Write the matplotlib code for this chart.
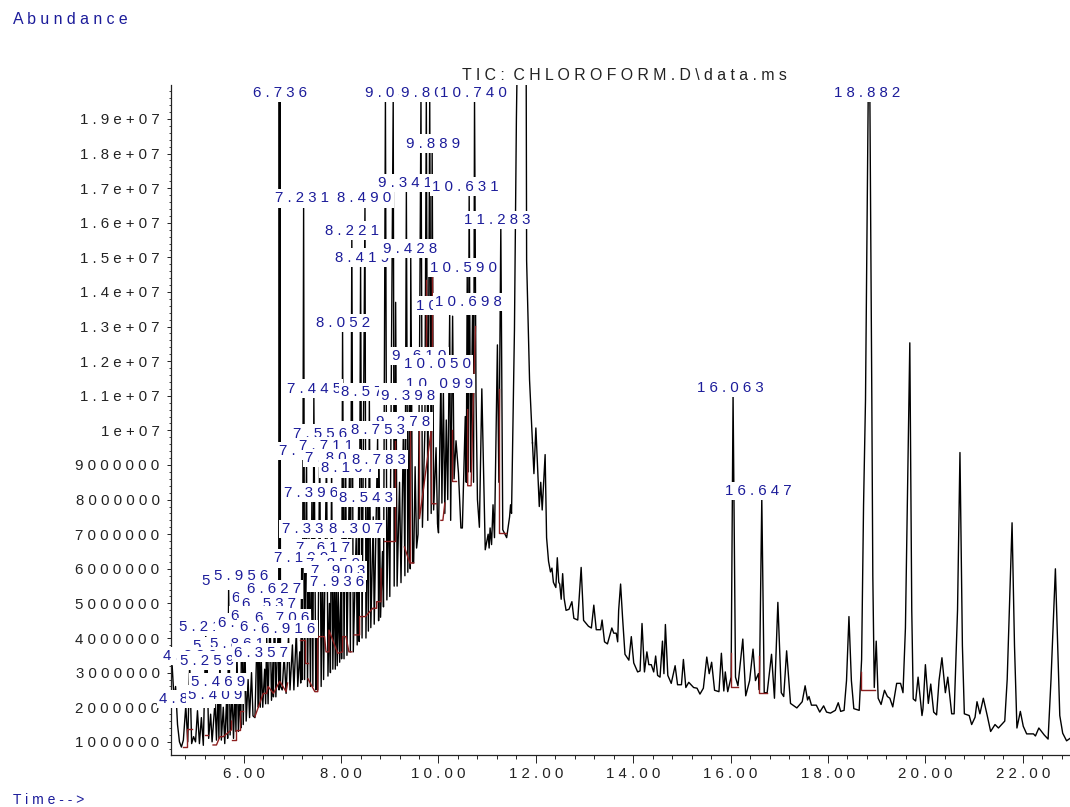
import matplotlib
matplotlib.use('Agg')
import matplotlib.pyplot as plt
from matplotlib.ticker import FixedLocator, MultipleLocator

plt.rcParams['font.family'] = ['Liberation Sans', 'DejaVu Sans']

# trace: (minutes, abundance in millions)
early = [(4.50,2.6),(4.53,3.2),(4.57,2.2),(4.60,2.6),(4.64,1.5),(4.68,1.0),(4.72,0.85),(4.76,1.05),
         (4.81,2.04),(4.85,1.0),(4.89,3.28),(4.93,0.95),(4.97,1.15),(5.01,1.0),(5.05,1.9),(5.09,0.95),
         (5.13,1.7),(5.17,0.9),(5.22,4.12),(5.23,2.0),(5.25,3.14),(5.28,1.1),(5.32,1.8),(5.35,1.0),
         (5.41,2.16),(5.44,1.05),(5.47,2.53),(5.49,1.1),(5.51,3.57),(5.54,1.05),(5.58,2.0),(5.61,0.95),
         (5.65,2.3),(5.67,1.1),(5.69,5.45),(5.72,1.2),(5.76,2.4),(5.79,1.1),(5.82,2.6),(5.84,1.3),
         (5.86,3.63),(5.89,1.3),(5.92,2.4),(5.94,1.4),(5.96,5.6),(5.99,1.5),(6.02,4.24),(6.05,1.6),
         (6.09,2.8),(6.12,1.7),(6.16,3.0),(6.19,1.75),(6.23,1.7),(6.28,4.44),(6.30,2.0),(6.31,4.96),
         (6.34,2.0),(6.36,3.37),(6.39,2.0),(6.43,3.1),(6.45,2.1),(6.47,4.12),(6.50,2.1),(6.54,4.79),
         (6.57,2.2),(6.60,3.3),(6.61,2.3),(6.63,5.2),(6.66,2.3),(6.71,4.38),(6.725,2.5),(6.73,19.6),
         (6.735,5.0),(6.745,19.6),(6.755,2.6),(6.79,2.5),(6.83,3.5),(6.87,2.4),(6.92,4.06),(6.95,2.5),
         (7.0,3.8),(7.03,2.5),(7.08,4.2),(7.11,2.6),(7.15,3.6),(7.17,2.7),(7.19,6.1),(7.205,2.8),
         (7.23,16.5),(7.25,2.8),(7.29,9.2),(7.31,2.6),(7.34,6.95),(7.37,2.6),(7.40,8.0),(7.42,2.6),
         (7.44,11.0),(7.48,2.5),(7.50,4.2),(7.52,2.5),(7.56,9.7),(7.59,2.6),(7.62,6.4),(7.64,2.8),
         (7.70,9.35),(7.73,2.9),(7.76,5.0),(7.78,3.0),(7.805,9.0),(7.83,3.1),(7.86,5.94),(7.88,3.1),
         (7.90,5.74),(7.92,3.2),(7.94,5.4),(7.97,3.3),(8.0,6.0),(8.01,3.4),(8.03,12.9),(8.06,3.4),
         (8.09,9.8),(8.12,3.5),(8.17,8.7),(8.19,3.6),(8.22,15.57),(8.25,3.6),(8.31,6.95),(8.33,3.8),
         (8.36,8.0),(8.37,3.9),(8.40,14.79),(8.43,4.0),(8.49,16.5),(8.51,4.0),(8.54,7.85),(8.56,4.2),
         (8.58,10.9),(8.61,4.3),(8.66,7.5),(8.68,4.4),(8.75,9.8),(8.77,4.5),(8.78,8.95),(8.81,4.6),
         (8.85,6.5),(8.87,4.9)]
middle = [(8.91,19.6),(8.94,5.1),(8.98,8.3),(9.0,5.2),(9.07,19.6),(9.09,5.5),(9.12,13.7),(9.15,5.5),
          (9.20,8.5),(9.23,5.6),(9.28,10.05),(9.31,5.8),(9.34,16.95),(9.37,5.9),(9.40,10.8),(9.42,6.0),
          (9.43,15.05),(9.47,6.17),(9.49,6.17),(9.52,8.95),(9.55,6.6),(9.58,7.0),(9.61,11.95),(9.64,19.6),
          (9.67,7.2),(9.72,10.0),(9.75,19.6),(9.78,7.4),(9.82,19.6),(9.85,7.6),(9.87,18.08),(9.90,7.7),
          (9.95,9.5),(9.98,7.3),(10.0,7.04),(10.05,11.7),(10.07,7.9),(10.10,11.15),(10.13,7.6),
          (10.16,10.3),(10.19,8.0),(10.23,13.4),(10.25,7.4),(10.29,13.3),(10.32,8.6),(10.36,9.7),
          (10.41,8.77),(10.46,7.18),(10.49,7.18),(10.55,10.4),(10.57,8.5),(10.59,14.5),(10.61,8.8),
          (10.63,16.84),(10.66,8.8),(10.70,13.5),(10.72,8.5),(10.74,19.6),(10.77,11.08),(10.80,8.0),
          (10.84,7.2),(10.89,11.2),(10.96,6.55),(11.02,7.0),(11.04,6.6),(11.06,7.18),(11.09,6.7),
          (11.12,7.85),(11.15,6.9),(11.21,12.47),(11.24,8.5),(11.28,15.88),(11.32,7.13),(11.40,6.9),
          (11.46,7.5),(11.48,7.85),(11.50,7.6),(11.56,12.9),(11.60,19.0),(11.63,22.0),(11.72,22.0),
          (11.80,21.0),(11.81,14.9),(11.87,11.46),(11.93,9.64)]
late = [(11.93,9.64),(11.96,8.75),(12.0,10.07),(12.07,7.8),(12.10,8.5),(12.13,7.7),(12.19,9.3),(12.22,6.9),
        (12.26,6.22),(12.30,5.91),(12.33,6.02),(12.36,5.61),(12.41,5.46),
        (12.44,6.32),(12.47,5.61),(12.49,5.56),(12.52,5.12),(12.55,5.86),(12.58,5.15),(12.62,4.8),
        (12.68,4.83),(12.74,5.05),(12.78,4.57),(12.86,4.52),(12.93,6.04),(12.98,4.51),(13.08,4.34),
        (13.14,4.29),(13.19,4.95),(13.24,4.24),(13.33,4.24),(13.36,4.52),(13.41,3.89),(13.47,3.83),
        (13.56,4.29),(13.60,4.14),(13.65,4.14),(13.68,3.89),(13.70,4.8),(13.74,5.56),(13.78,4.6),
        (13.83,3.53),(13.91,3.36),(13.96,4.04),(14.01,3.28),(14.09,3.02),(14.14,3.05),(14.18,4.42),
        (14.23,3.02),(14.28,3.6),(14.32,3.23),(14.37,3.23),(14.42,3.02),(14.46,3.48),(14.50,2.92),
        (14.55,2.87),(14.60,3.91),(14.63,2.97),(14.66,4.39),(14.71,2.92),(14.78,2.69),(14.86,3.2),
        (14.91,2.65),(14.99,2.65),(15.03,3.38),(15.08,2.57),(15.14,2.72),(15.24,2.57),(15.31,2.55),
        (15.37,2.38),(15.44,2.55),(15.51,3.45),(15.56,2.97),(15.61,3.3),(15.67,2.49),(15.76,2.45),
        (15.81,3.56),(15.86,2.47),(15.89,3.02),(15.94,2.45),(16.01,2.87),(16.05,11.03),(16.10,2.87),
        (16.15,2.62),(16.20,3.28),(16.25,3.97),(16.31,2.33),(16.39,2.77),(16.46,3.68),(16.51,2.77),
        (16.57,2.97),(16.59,2.5),(16.64,8.04),(16.69,2.42),(16.75,2.42),(16.84,3.53),(16.90,2.26),
        (16.97,5.03),(17.04,2.42),(17.09,2.31),(17.15,3.63),(17.23,2.11),(17.36,1.98),(17.47,2.16),
        (17.53,2.62),(17.58,2.21),(17.61,2.31),(17.66,2.06),(17.76,2.06),(17.83,1.86),(17.91,2.04),
        (17.97,1.86),(18.05,1.83),(18.15,1.91),(18.21,2.13),(18.26,1.88),(18.33,1.91),(18.38,2.77),
        (18.43,4.62),(18.48,2.77),(18.53,1.96),(18.64,1.91),(18.69,3.38),(18.73,7.84),(18.77,10.88),
        (18.825,19.6),(18.86,19.6),(18.90,10.88),(18.92,5.8),(18.95,2.57),(18.99,3.91),(19.03,2.26),(19.09,2.08),
        (19.16,2.49),(19.22,2.31),(19.27,2.26),(19.33,2.01),(19.41,2.69),(19.49,2.69),(19.54,2.42),
        (19.59,4.29),(19.65,9.87),(19.68,12.53),(19.72,4.8),(19.75,2.24),(19.80,2.18),(19.85,2.87),
        (19.93,1.76),(19.95,1.95),(20.0,3.23),(20.06,2.11),(20.11,2.67),(20.17,1.86),(20.23,1.78),
        (20.28,2.77),(20.34,3.43),(20.41,2.42),(20.46,2.87),(20.54,1.81),(20.59,1.81),(20.66,4.8),
        (20.71,9.36),(20.76,3.78),(20.80,1.81),(20.90,1.76),(20.95,1.5),(21.02,1.71),(21.06,2.16),
        (21.12,1.81),(21.19,2.26),(21.27,1.76),(21.34,1.3),(21.43,1.5),(21.5,1.4),(21.63,1.6),
        (21.68,2.8),(21.78,7.33),(21.83,3.78),(21.88,1.4),(21.95,1.88),(22.01,1.45),(22.08,1.23),
        (22.22,1.23),(22.26,1.17),(22.33,1.4),(22.44,1.2),(22.52,1.08),(22.58,2.8),(22.67,6.0),
        (22.76,1.76),(22.82,1.25),(22.90,1.03),(22.97,1.1)]

# integration baselines, one list per run of red segments
baselines = [
    [(4.75,0.85),(4.83,0.85),(4.83,1.37),(4.94,1.37)],
    [(5.20,1.2),(5.27,1.2)],
    [(5.37,0.91),(5.44,0.91),(5.51,1.15),(5.58,1.15),(5.75,1.35),(5.75,1.6)],
    [(5.75,1.06),(5.84,1.06),(5.84,1.35),(5.92,1.35),(5.92,1.88),(5.98,1.88)],
    [(6.23,1.73),(6.33,2.12),(6.40,2.4),(6.47,2.4),(6.50,2.6),(6.61,2.4),(6.74,2.75),(6.87,2.45),(6.90,2.7)],
    [(7.15,3.94),(7.25,3.94),(7.25,3.27),(7.32,3.27)],
    [(7.32,2.82),(7.46,2.45),(7.52,2.45),(7.52,3.37),(7.52,4.04),(7.66,4.04),(7.69,3.6),(7.75,3.6),
     (7.75,4.23),(7.93,3.56),(8.03,3.6),(8.03,4.04),(8.10,4.04),(8.16,3.6),(8.22,3.6)],
    [(8.27,4.09),(8.38,4.09),(8.38,4.62),(8.50,4.62),(8.65,4.86),(8.73,4.86),(8.73,5.05),(8.82,5.05),(8.82,6.0)],
    [(8.89,6.79),(9.10,6.79),(9.10,8.4),(9.10,9.7)],
    [(9.30,6.63),(9.41,6.17),(9.49,6.17)],
    [(9.41,6.17),(9.41,10.0)],
    [(9.61,10.0),(9.61,7.45),(9.85,10.0),(9.86,7.88),(9.95,7.88)],
    [(9.75,12.4),(9.75,14.35)],
    [(9.87,12.4),(9.87,14.9)],
    [(10.05,7.4),(10.09,7.4),(10.13,7.9)],
    [(10.28,10.0),(10.28,8.55),(10.35,8.55)],
    [(10.60,10.6),(10.60,8.4),(10.67,8.4),(10.70,10.2),(10.76,13.0)],
    [(11.25,11.2),(11.25,7.04),(11.39,7.04)],
    [(16.01,3.58),(16.01,2.59),(16.15,2.59)],
    [(16.59,3.48),(16.59,2.41),(16.75,2.41)],
    [(18.68,3.03),(18.68,2.51),(18.96,2.51)],
]

# peak labels in drawing order: later ones sit on top of earlier ones
label_text = ['6.736','9.046','9.805','10.740','18.882','9.889','9.341','10.631','7.231','8.490',
              '8.221','11.283','8.419','9.428','10.590','10.227','10.698','8.052','9.610','10.050',
              '10.099','7.445','8.578','9.398','9.278','8.091','7.556','7.294','7.711','7.805',
              '8.753','8.167','8.783','7.396','8.543','7.338','8.307','7.617','7.199','7.859',
              '7.903','7.936','5.689','5.956','6.311','6.627','6.537','5.218','6.021','6.287',
              '6.472','5.512','5.861','6.706','6.916','4.889','5.259','6.357','4.812','5.409',
              '5.469','16.063','16.647']
label_time = [6.74,9.05,9.79,10.72,18.80,9.88,9.32,10.55,7.19,8.48,
              8.22,11.21,8.42,9.41,10.51,10.23,10.62,8.05,9.61,9.98,
              10.02,7.44,8.56,9.38,9.28,8.09,7.56,7.29,7.70,7.81,
              8.75,8.15,8.77,7.39,8.52,7.33,8.30,7.62,7.19,7.83,
              7.93,7.91,5.69,5.94,6.31,6.62,6.51,5.22,6.02,6.29,
              6.47,5.51,5.86,6.78,6.92,4.89,5.24,6.35,4.81,5.41,
              5.47,15.99,16.56]
label_height = [19.55,19.55,19.55,19.55,19.55,18.08,16.95,16.84,16.5,16.5,
                15.57,15.88,14.79,15.05,14.5,13.4,13.5,12.9,11.95,11.7,
                11.15,11.0,10.9,10.8,10.05,9.8,9.7,9.2,9.35,9.0,
                9.8,8.7,8.95,8.0,7.85,6.95,6.95,6.4,6.1,5.94,
                5.74,5.4,5.45,5.6,4.96,5.2,4.79,4.12,4.24,4.44,
                4.12,3.57,3.63,4.38,4.06,3.28,3.14,3.37,2.04,2.16,
                2.53,11.03,8.04]

y_ticks = [1,2,3,4,5,6,7,8,9,10,11,12,13,14,15,16,17,18,19]
y_labels = ['1000000','2000000','3000000','4000000','5000000','6000000','7000000','8000000','9000000',
            '1e+07','1.1e+07','1.2e+07','1.3e+07','1.4e+07','1.5e+07','1.6e+07','1.7e+07','1.8e+07','1.9e+07']
x_ticks = [6,8,10,12,14,16,18,20,22]
x_labels = ['6.00','8.00','10.00','12.00','14.00','16.00','18.00','20.00','22.00']

NAVY = '#1c1c9a'
INK = '#222222'
RED = '#8c1f1f'
FS = 10.8


def spaced(s):
    # the instrument software prints its text letter-spaced
    return ' '.join(s)


fig = plt.figure(figsize=(10.7, 8.07), dpi=100)
ax = fig.add_axes([170.7/1070, 52/807, 1 - 170.7/1070, (755-85)/807])

crowded = early + middle
ax.plot([p[0] for p in crowded], [p[1] for p in crowded], color='black', lw=1.0, zorder=2)
ax.plot([p[0] for p in late], [p[1] for p in late], color='black', lw=1.0, zorder=2)
for run in baselines:
    ax.plot([p[0] for p in run], [p[1] for p in run], color=RED, lw=1.0, zorder=3)

ax.set_xlim(4.5, 22.97)
ax.set_ylim(0.62, 19.98)

for side in ['top', 'right']:
    ax.spines[side].set_visible(False)
for side in ['left', 'bottom']:
    ax.spines[side].set_linewidth(0.9)
    ax.spines[side].set_color(INK)

ax.xaxis.set_major_locator(FixedLocator(x_ticks))
ax.xaxis.set_minor_locator(MultipleLocator(0.4))
ax.yaxis.set_major_locator(FixedLocator(y_ticks))
ax.yaxis.set_minor_locator(MultipleLocator(0.2))
ax.set_xticklabels([spaced(s) for s in x_labels])
ax.set_yticklabels([spaced(s) for s in y_labels])
ax.tick_params(axis='x', which='major', length=6, width=0.7, color=INK, labelsize=FS, labelcolor=INK, pad=3)
ax.tick_params(axis='x', which='minor', length=3, width=0.7, color=INK)
ax.tick_params(axis='y', which='major', length=3, width=0.7, color=INK, labelsize=FS, labelcolor=INK, pad=5)
ax.tick_params(axis='y', which='minor', length=1.5, width=0.6, color=INK)

for i, (txt, tm, h) in enumerate(zip(label_text, label_time, label_height)):
    ax.annotate(spaced(txt), (tm, h), xytext=(0, 5.1), textcoords='offset points',
                ha='center', va='center', fontsize=FS, color=NAVY, zorder=5 + i * 0.01,
                annotation_clip=False,
                bbox=dict(facecolor='white', edgecolor='none', pad=1.6))

fig.text(13/1070, 1 - 20/807, spaced('Abundance'), color=NAVY, fontsize=11.4, va='center', ha='left')
fig.text(13/1070, 1 - 800/807, spaced('Time-->'), color=NAVY, fontsize=10, va='center', ha='left')
fig.text(624/1070, 1 - 75/807, spaced('TIC: CHLOROFORM.D\\data.ms').replace('   ', '  '), color=INK,
         fontsize=11.4, va='center', ha='center')

fig.savefig('out.png', dpi=100)
